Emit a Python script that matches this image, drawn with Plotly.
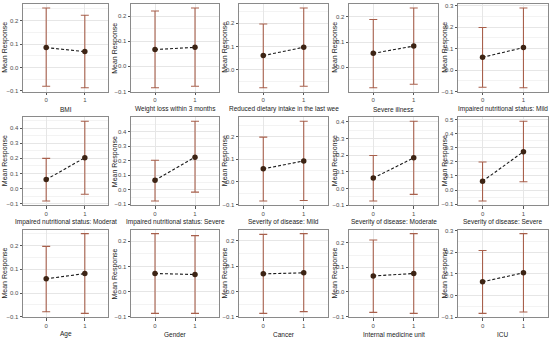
import plotly.graph_objects as go

# ---- data ----
labels = [
    "BMI", "Weight loss within 3 months", "Reduced dietary intake in the last wee",
    "Severe illness", "Impaired nutritional status: Mild",
    "Impaired nutritional status: Moderat", "Impaired nutritional status: Severe",
    "Severity of disease: Mild", "Severity of disease: Moderate", "Severity of disease: Severe",
    "Age", "Gender", "Cancer", "Internal medicine unit", "ICU",
]
groups = ["0", "1"]
mean0 = [0.085, 0.067, 0.061, 0.055, 0.060, 0.060, 0.065, 0.057, 0.062, 0.063, 0.060, 0.072, 0.070, 0.065, 0.064]
mean1 = [0.068, 0.076, 0.097, 0.084, 0.105, 0.204, 0.224, 0.092, 0.184, 0.272, 0.082, 0.068, 0.074, 0.075, 0.105]
low0  = [-0.080, -0.085, -0.077, -0.082, -0.080, -0.082, -0.077, -0.085, -0.076, -0.077, -0.079, -0.086, -0.086, -0.083, -0.082]
high0 = [0.254, 0.221, 0.197, 0.190, 0.199, 0.200, 0.203, 0.197, 0.198, 0.199, 0.197, 0.230, 0.226, 0.211, 0.208]
low1  = [-0.086, -0.079, -0.071, -0.068, -0.082, -0.037, -0.016, -0.083, -0.036, 0.059, -0.086, -0.086, -0.079, -0.087, -0.076]
high1 = [0.223, 0.233, 0.266, 0.236, 0.290, 0.445, 0.470, 0.267, 0.404, 0.487, 0.251, 0.222, 0.229, 0.237, 0.286]

# ---- layout geometry (pixels) ----
W, H = 550, 344
col_left = [23, 131, 239, 349, 458]
col_right = [108, 219, 328, 438, 548]
row_top = [2, 117, 231]
row_bot = [91, 206, 320]
title_y = [109, 223, 337]

ERR_COLOR = "#a8604c"
PT_COLOR = "#3d2414"
GRID = "#e6e6e6"
GRID_MINOR = "#f3f3f3"
BORDER = "#8a8a8a"
FONT = "Liberation Sans"

fig = go.Figure()
annotations = []

for i, name in enumerate(labels):
    r, c = divmod(i, 5)
    k = i + 1
    xa = "x" if k == 1 else f"x{k}"
    ya = "y" if k == 1 else f"y{k}"
    means = [mean0[i], mean1[i]]
    lows = [low0[i], low1[i]]
    highs = [high0[i], high1[i]]
    xs = [0, 1]
    # dashed connecting line
    fig.add_trace(go.Scatter(
        x=xs, y=means, mode="lines", xaxis=xa, yaxis=ya,
        line=dict(color="#1a1a1a", width=1.1, dash="3px,2px"),
        showlegend=False, hoverinfo="skip"))
    # points with error bars
    fig.add_trace(go.Scatter(
        x=xs, y=means, mode="markers", xaxis=xa, yaxis=ya,
        marker=dict(color=PT_COLOR, size=5.5),
        error_y=dict(type="data", symmetric=False,
                     array=[h - m for h, m in zip(highs, means)],
                     arrayminus=[m - l for m, l in zip(means, lows)],
                     color=ERR_COLOR, thickness=1.1, width=4),
        showlegend=False))

    lo, hi = min(lows), max(highs)
    pad = 0.05 * (hi - lo)
    xdom = [col_left[c] / W, col_right[c] / W]
    ydom = [1 - row_bot[r] / H, 1 - row_top[r] / H]
    axkey = "xaxis" if k == 1 else f"xaxis{k}"
    aykey = "yaxis" if k == 1 else f"yaxis{k}"
    fig.layout[axkey] = dict(
        domain=xdom, anchor=ya, range=[-0.6, 1.6],
        tickvals=xs, ticktext=groups,
        showgrid=True, gridcolor=GRID, gridwidth=1, zeroline=False,
        showline=True, linecolor=BORDER, linewidth=1, mirror=True,
        ticks="outside", ticklen=2.5, tickcolor="#555555", tickwidth=0.8,
        tickfont=dict(size=6, color="#4d4d4d", family=FONT))
    fig.layout[aykey] = dict(
        domain=ydom, anchor=xa, range=[lo - pad, hi + pad],
        dtick=0.1, tickformat=".1f",
        showgrid=True, gridcolor=GRID, gridwidth=1, zeroline=False,
        minor=dict(dtick=0.05, showgrid=True, gridcolor=GRID_MINOR, gridwidth=0.8),
        showline=True, linecolor=BORDER, linewidth=1, mirror=True,
        ticks="outside", ticklen=2.5, tickcolor="#555555", tickwidth=0.8,
        tickfont=dict(size=6, color="#4d4d4d", family=FONT))
    # x title
    annotations.append(dict(
        text=name, x=(col_left[c] + col_right[c]) / 2 / W, y=1 - title_y[r] / H,
        xref="paper", yref="paper", showarrow=False, xanchor="center", yanchor="middle",
        font=dict(size=6.5, color="#1a1a1a", family=FONT)))
    # y title
    annotations.append(dict(
        text="Mean Response", x=(110 * c + 5) / W, y=1 - (row_top[r] + row_bot[r]) / 2 / H,
        xref="paper", yref="paper", showarrow=False, textangle=-90,
        xanchor="center", yanchor="middle",
        font=dict(size=7, color="#1a1a1a", family=FONT)))

fig.update_layout(
    width=W, height=H, margin=dict(l=0, r=0, t=0, b=0),
    paper_bgcolor="white", plot_bgcolor="white",
    annotations=annotations, showlegend=False)

fig.write_html("out.html", config={"displayModeBar": False},
               post_script="document.body.style.margin='0';")
